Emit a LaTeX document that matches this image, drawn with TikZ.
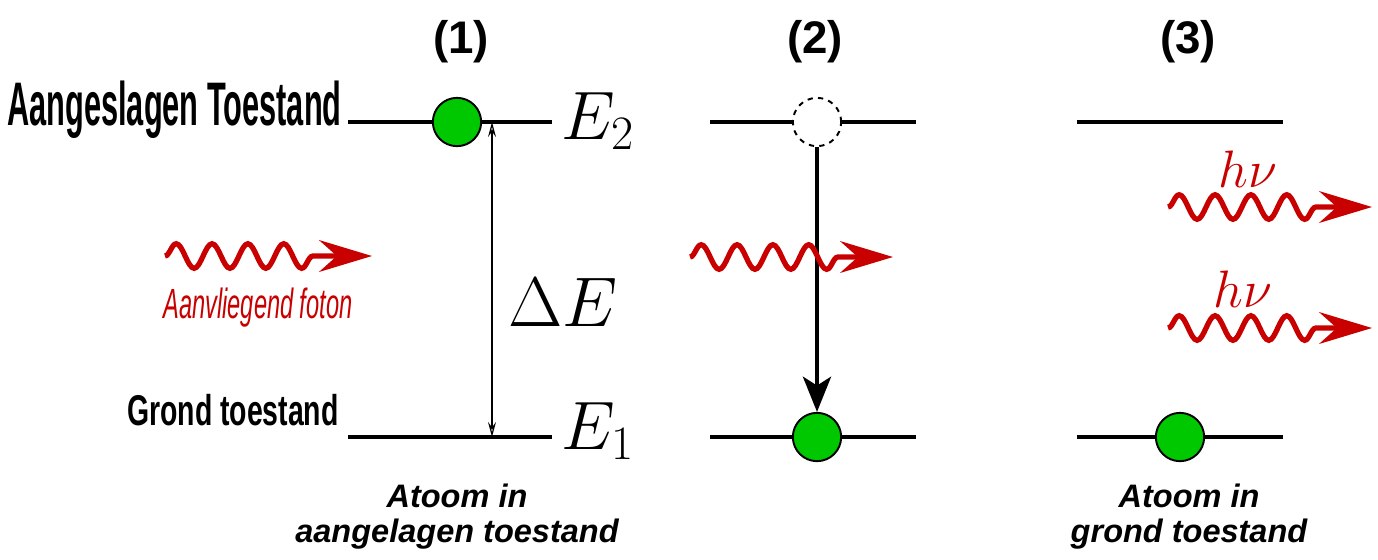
\RequirePackage{fix-cm}
\documentclass[tikz,border=0pt]{standalone}
\usepackage{fontspec}
\setsansfont{Liberation Sans}
\newfontfamily\hoogfont[FakeStretch=0.5]{Liberation Sans}
\newfontfamily\grondfont[FakeStretch=0.66]{Liberation Sans}
\newfontfamily\fotonfont[FakeStretch=0.56]{Liberation Sans}
\usetikzlibrary{arrows.meta,decorations.pathmorphing}
\definecolor{gn}{RGB}{0,200,0}
\definecolor{rd}{RGB}{200,0,0}
\newcommand{\groot}{\fontsize{39}{43}\selectfont}

\begin{document}
\begin{tikzpicture}[x=0.02cm,y=-0.02cm,
  niveau/.style={line width=2.5pt},
  deeltje/.style={circle,draw,line width=1.1pt,fill=gn,minimum size=27.5pt,inner sep=0pt},
  gat/.style={circle,draw,dashed,line width=1.1pt,fill=white,minimum size=27.5pt,inner sep=0pt},
  foton/.style={rd,line width=3pt,decorate,
    decoration={snake,segment length=20.4pt,amplitude=7pt,post length=24pt},
    -{Stealth[length=30pt,width=18pt,inset=10pt]}},
  verval/.style={line width=2.3pt,-{Stealth[length=20pt,width=16pt,inset=5pt]}},
  titel/.style={font=\sffamily\bfseries\fontsize{26}{30}\selectfont},
  onder/.style={anchor=north,align=center,inner sep=0pt,
    font=\sffamily\bfseries\itshape\fontsize{18.5}{19.5}\selectfont}]
  \useasboundingbox (0,0) rectangle (1378,559);

  % titles
  \node[titel] (t1) at (461,42) {(1)};
  \node[titel] (t2) at (815,42) {(2)};
  \node[titel] (t3) at (1188,42) {(3)};

  % level names
  \node[anchor=base east,inner sep=0pt,font={\hoogfont\fontsize{35}{40}\selectfont\bfseries}] (hoog) at (342,125) {Aangeslagen Toestand};
  \node[anchor=base east,inner sep=0pt,font={\grondfont\fontsize{24.5}{28}\selectfont\bfseries}] (laag) at (339,425) {Grond toestand};

  % panel 1
  \coordinate (a1) at (348,122); \coordinate (b1) at (552,122);
  \coordinate (c1) at (348,437); \coordinate (d1) at (552,437);
  \draw[niveau] (a1) -- (b1);
  \draw[niveau] (c1) -- (d1);
  \node[deeltje] (el1) at (457,122) {};
  \coordinate (de1) at (492,122); \coordinate (de2) at (492,437);
  \draw[line width=0.7pt,{Stealth[open,length=8.5pt,width=4.5pt,inset=3pt]}-{Stealth[open,length=8.5pt,width=4.5pt,inset=3pt]}] (de1) -- (de2);
  \node[anchor=base west,inner sep=0pt,font=\groot] (e2) at (561,139) {$E_2$};
  \node[anchor=base west,inner sep=0pt,font=\groot] (e1) at (561,449) {$E_1$};
  \node[anchor=base west,inner sep=0pt,font=\fontsize{40}{44}\selectfont] (de) at (508,326) {$\Delta E$};

  \coordinate (f1s) at (165,256); \coordinate (f1e) at (372,256);
  \draw[foton] (f1s) -- (f1e);
  \node[anchor=base,inner sep=0pt,text=rd,font={\fotonfont\fontsize{24}{28}\selectfont\itshape}] (inval) at (258,318) {Aanvliegend foton};

  \node[onder] (s1) at (457,484) {Atoom in\\aangelagen toestand};

  % panel 2
  \coordinate (a2) at (710,122); \coordinate (b2) at (916,122);
  \coordinate (c2) at (710,437); \coordinate (d2) at (916,437);
  \draw[niveau] (a2) -- (b2);
  \draw[niveau] (c2) -- (d2);
  \node[gat] (gat2) at (817,122) {};
  \node[deeltje] (el2) at (817,437) {};
  \draw[verval] (gat2) -- (el2);
  \coordinate (f2s) at (690,257); \coordinate (f2e) at (893,257);
  \draw[foton] (f2s) -- (f2e);

  % panel 3
  \coordinate (a3) at (1077,122); \coordinate (b3) at (1283,122);
  \coordinate (c3) at (1077,437); \coordinate (d3) at (1283,437);
  \draw[niveau] (a3) -- (b3);
  \draw[niveau] (c3) -- (d3);
  \node[deeltje] (el3) at (1180,437) {};
  \coordinate (f3s) at (1168,207); \coordinate (f3e) at (1372,207);
  \coordinate (f4s) at (1168,328); \coordinate (f4e) at (1372,328);
  \draw[foton] (f3s) -- (f3e);
  \draw[foton] (f4s) -- (f4e);
  \node[anchor=base,inner sep=0pt,text=rd,font=\fontsize{30}{34}\selectfont] (hv1) at (1248,187) {$h\nu$};
  \node[anchor=base,inner sep=0pt,text=rd,font=\fontsize{30}{34}\selectfont] (hv2) at (1243,307) {$h\nu$};

  \node[onder] (s3) at (1189,484) {Atoom in\\grond toestand};
\end{tikzpicture}
\end{document}
